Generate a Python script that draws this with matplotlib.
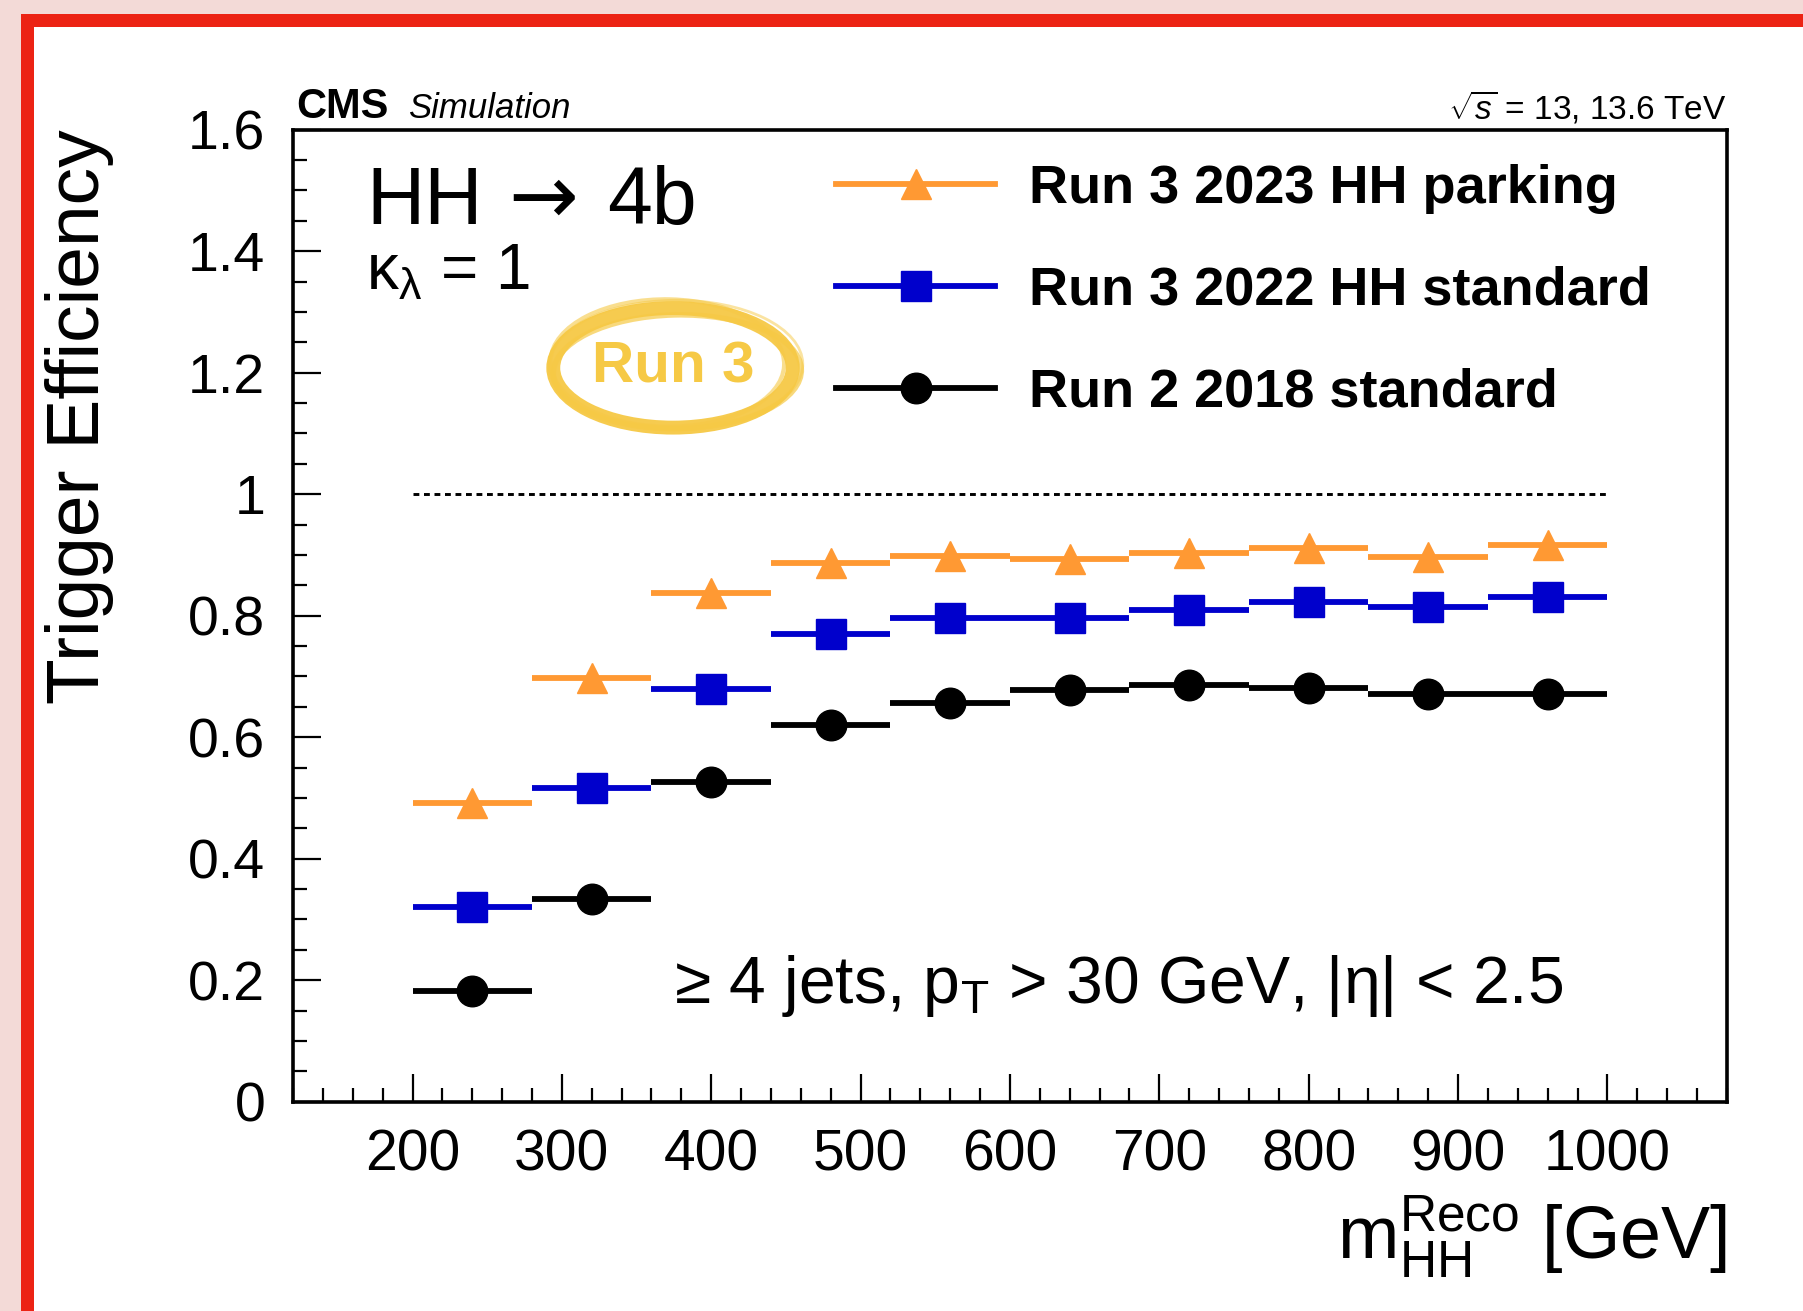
import matplotlib
matplotlib.use("Agg")
import matplotlib.pyplot as plt
from matplotlib.lines import Line2D
from matplotlib.patches import Ellipse, Rectangle

# m_HH reco binning (GeV)
bin_centers = [240, 320, 400, 480, 560, 640, 720, 800, 880, 960]
bin_half_width = 40

# trigger efficiencies per bin
eff_2023_parking = [0.491, 0.697, 0.838, 0.886, 0.899, 0.894, 0.904, 0.911, 0.896, 0.916]
eff_2022_standard = [0.321, 0.517, 0.680, 0.770, 0.797, 0.797, 0.809, 0.822, 0.814, 0.830]
eff_2018_standard = [0.183, 0.333, 0.526, 0.620, 0.656, 0.678, 0.686, 0.681, 0.671, 0.671]

labels = ["Run 3 2023 HH parking", "Run 3 2022 HH standard", "Run 2 2018 standard"]

x_ticks = [200, 300, 400, 500, 600, 700, 800, 900, 1000]
y_ticks = [0, 0.2, 0.4, 0.6, 0.8, 1.0, 1.2, 1.4, 1.6]
y_tick_labels = ["0", "0.2", "0.4", "0.6", "0.8", "1", "1.2", "1.4", "1.6"]

ref_level = 1.0
ref_range = (200, 1000)

font = ["Liberation Sans", "DejaVu Sans"]
plt.rcParams["font.family"] = font
plt.rcParams["mathtext.fontset"] = "custom"
plt.rcParams["mathtext.rm"] = "Liberation Sans"
plt.rcParams["mathtext.it"] = "Liberation Sans:italic"
plt.rcParams["mathtext.bf"] = "Liberation Sans:bold"

orange = "#FF9933"
blue = "#0000CC"
black = "#000000"
gold = "#F6C945"

W, H = 1803, 1311
fig = plt.figure(figsize=(W / 100, H / 100), dpi=100)
fig.patch.set_facecolor("#f3dad7")

# red frame of the slide
fig.add_artist(Rectangle((21 / W, 0), 1, 1 - 14 / H, transform=fig.transFigure,
                         facecolor="#EC2314", edgecolor="none", zorder=0))
fig.add_artist(Rectangle((34 / W, 0), 1, 1 - 27 / H, transform=fig.transFigure,
                         facecolor="white", edgecolor="none", zorder=0))

ax = fig.add_axes([293 / W, 1 - 1101.7 / H, 1434 / W, 972 / H])
ax.set_facecolor("white")

series = [(eff_2023_parking, orange, "^"),
          (eff_2022_standard, blue, "s"),
          (eff_2018_standard, black, "o")]
for eff, c, m in series:
    ax.errorbar(bin_centers, eff, xerr=bin_half_width, fmt=m, color=c, ms=22,
                elinewidth=4.2, capsize=0, mec=c, mfc=c)

ax.hlines(ref_level, ref_range[0], ref_range[1], colors="black",
          linestyles=(0, (2.0, 1.6)), linewidth=2.1)

ax.set_xlim(120, 1080)
ax.set_ylim(0, 1.6)
ax.set_xticks(x_ticks)
ax.set_xticks(range(120, 1081, 20), minor=True)
ax.set_yticks(y_ticks)
ax.set_yticklabels(y_tick_labels)
ax.set_yticks([i * 0.05 for i in range(33)], minor=True)
ax.tick_params(which="both", direction="in", width=1.6, top=False, right=False)
ax.tick_params(which="major", length=20)
ax.tick_params(which="minor", length=10)
ax.tick_params(axis="x", labelsize=41, pad=19)
ax.tick_params(axis="y", labelsize=40, pad=20)
for s in ax.spines.values():
    s.set_linewidth(2.6)

ax.set_ylabel("Trigger Efficiency", fontsize=54, loc="top")
ax.yaxis.set_label_coords(-0.125, 1.0)
ax.set_xlabel(r"$\mathrm{m}_{\mathrm{HH}}^{\mathrm{Reco}}$ [GeV]", fontsize=53, loc="right")
ax.xaxis.set_label_coords(1.0, -0.095)

# header
ax.text(0.002, 1.012, "CMS", transform=ax.transAxes, fontsize=30, fontweight="bold",
        va="baseline", ha="left")
ax.text(0.080, 1.012, "Simulation", transform=ax.transAxes, fontsize=25, style="italic",
        va="baseline", ha="left")
ax.text(1.0, 1.012, r"$\sqrt{s}$ = 13, 13.6 TeV", transform=ax.transAxes, fontsize=24,
        va="baseline", ha="right")

# HH -> 4b, arrow taken from DejaVu (longer than the Liberation one)
ax.text(0.051, 0.903, "HH", transform=ax.transAxes, fontsize=58, va="baseline")
ax.text(0.150, 0.903, "→", transform=ax.transAxes, fontsize=60, va="baseline",
        family="DejaVu Sans")
ax.text(0.219, 0.903, "4b", transform=ax.transAxes, fontsize=58, va="baseline")
ax.text(0.051, 0.835, r"κ$_{\mathrm{λ}}$ = 1", transform=ax.transAxes, fontsize=46,
        va="baseline")
ax.text(0.266, 0.1016, r"≥ 4 jets, p$_{\mathrm{T}}$ > 30 GeV, |η| < 2.5",
        transform=ax.transAxes, fontsize=47.5, va="baseline")

# Run 3 stamp
cx, cy = 0.265, 0.755
for dx, dy, dw, dh, ang, lw, a in [(0, 0, 0, 0, 0, 10, 0.95),
                                   (0.003, -0.004, 0.006, -0.006, 2, 4, 0.7),
                                   (-0.004, 0.005, -0.004, 0.008, -2, 3, 0.6),
                                   (0.002, 0.003, 0.010, 0.010, 1, 2, 0.5)]:
    ax.add_patch(Ellipse((cx + dx, cy + dy), 0.167 + dw, 0.123 + dh, angle=ang,
                         fill=False, ec=gold, lw=lw, alpha=a, transform=ax.transAxes))
ax.text(cx, cy, "Run 3", transform=ax.transAxes, fontsize=42, fontweight="bold",
        color=gold, ha="center", va="center")

handles = [Line2D([], [], color=c, marker=m, ms=22, lw=4.2) for _, c, m in series]
ax.legend(handles, labels, loc="upper left", bbox_to_anchor=(0.379, 0.965),
          frameon=False, prop={"size": 39, "weight": "bold"}, handlelength=2.93,
          handletextpad=0.63, labelspacing=0.96, borderpad=0, borderaxespad=0)

fig.savefig("out.png", dpi=100)
